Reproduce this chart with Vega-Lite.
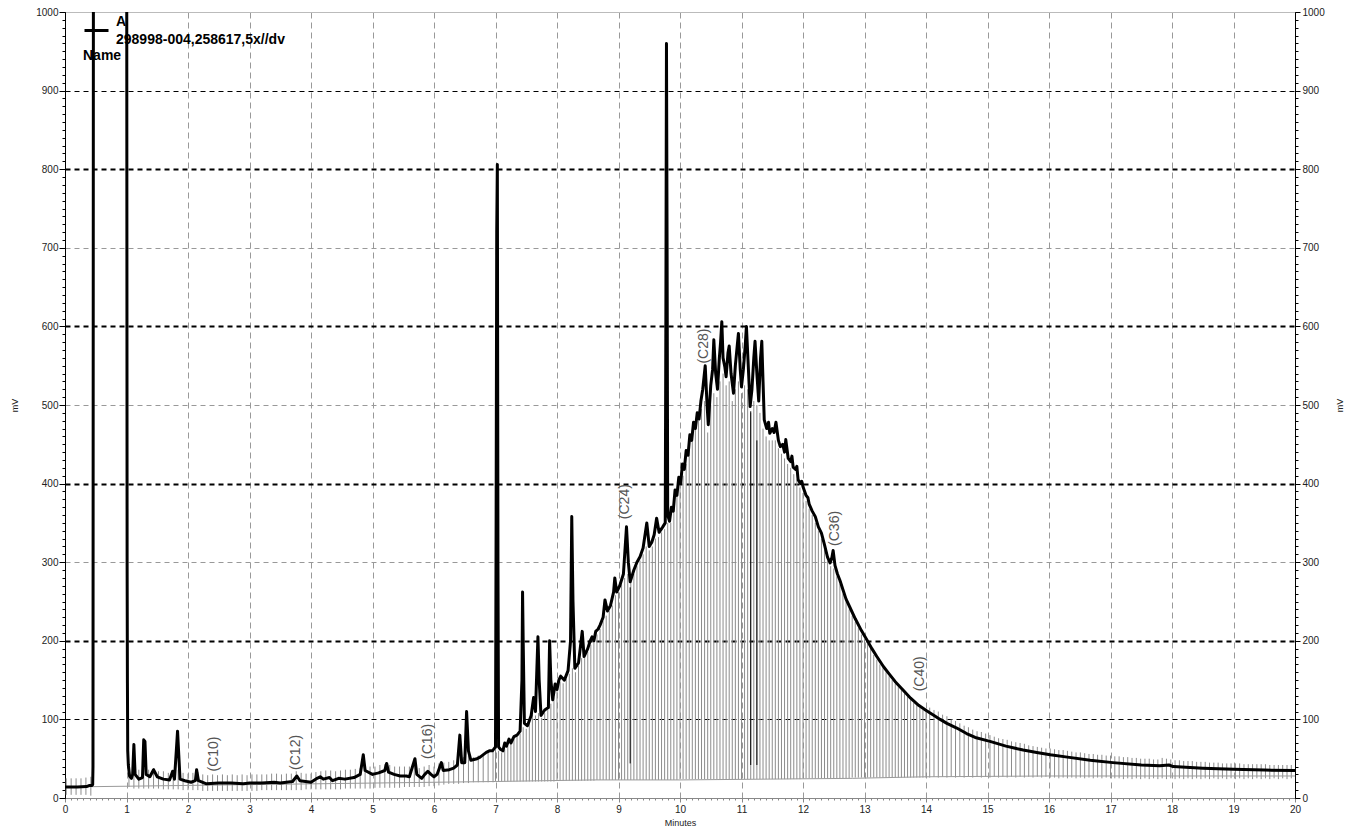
{
"$schema": "https://vega.github.io/schema/vega-lite/v6.json",
"width": 1230, "height": 786,
"autosize": {"type": "none"},
"padding": {"left": 65, "top": 12, "right": 70, "bottom": 37},
"background": "white",
"config": {"view": {"stroke": null}, "font": "Liberation Sans"},
"datasets": {
"trace": [
{"t":0,"v":14},{"t":0.2,"v":14},{"t":0.35,"v":14.5},{"t":0.4,"v":16},{"t":0.44,"v":16},{"t":0.45,"v":17},{"t":0.455,"v":40},{"t":0.465,"v":1500},{"t":1.0,"v":1500},{"t":1.01,"v":300},{"t":1.015,"v":146},{"t":1.02,"v":60},{"t":1.03,"v":42},{"t":1.05,"v":28},{"t":1.08,"v":25},{"t":1.1,"v":30},{"t":1.12,"v":68},{"t":1.14,"v":30},{"t":1.2,"v":24},{"t":1.26,"v":26},{"t":1.28,"v":74},{"t":1.3,"v":72},{"t":1.32,"v":30},{"t":1.38,"v":27},{"t":1.44,"v":36},{"t":1.5,"v":27},{"t":1.6,"v":24},{"t":1.7,"v":23},{"t":1.75,"v":34},{"t":1.78,"v":24},{"t":1.81,"v":60},{"t":1.83,"v":85},{"t":1.85,"v":55},{"t":1.87,"v":24},{"t":1.95,"v":22},{"t":2.05,"v":20},{"t":2.12,"v":22},{"t":2.14,"v":36},{"t":2.17,"v":22},{"t":2.3,"v":18},{"t":2.5,"v":19},{"t":2.7,"v":19},{"t":2.9,"v":18},{"t":3.0,"v":19},{"t":3.2,"v":19},{"t":3.4,"v":20},{"t":3.5,"v":19},{"t":3.7,"v":21},{"t":3.77,"v":28},{"t":3.82,"v":22},{"t":4.0,"v":20},{"t":4.1,"v":25},{"t":4.15,"v":27},{"t":4.2,"v":24},{"t":4.3,"v":26},{"t":4.35,"v":22},{"t":4.45,"v":25},{"t":4.55,"v":24},{"t":4.7,"v":26},{"t":4.8,"v":30},{"t":4.85,"v":55},{"t":4.88,"v":35},{"t":5.0,"v":30},{"t":5.1,"v":32},{"t":5.2,"v":35},{"t":5.23,"v":44},{"t":5.26,"v":33},{"t":5.35,"v":30},{"t":5.45,"v":28},{"t":5.55,"v":28},{"t":5.6,"v":27},{"t":5.69,"v":50},{"t":5.72,"v":30},{"t":5.8,"v":25},{"t":5.85,"v":30},{"t":5.9,"v":34},{"t":5.95,"v":30},{"t":6.0,"v":27},{"t":6.05,"v":30},{"t":6.12,"v":45},{"t":6.15,"v":35},{"t":6.25,"v":36},{"t":6.32,"v":38},{"t":6.38,"v":42},{"t":6.42,"v":80},{"t":6.45,"v":45},{"t":6.5,"v":45},{"t":6.53,"v":110},{"t":6.56,"v":60},{"t":6.6,"v":48},{"t":6.7,"v":50},{"t":6.75,"v":52},{"t":6.85,"v":58},{"t":6.9,"v":60},{"t":6.95,"v":60},{"t":7.0,"v":65},{"t":7.01,"v":350},{"t":7.02,"v":720},{"t":7.03,"v":806},{"t":7.04,"v":300},{"t":7.05,"v":65},{"t":7.08,"v":62},{"t":7.12,"v":60},{"t":7.15,"v":70},{"t":7.18,"v":66},{"t":7.22,"v":75},{"t":7.25,"v":70},{"t":7.3,"v":78},{"t":7.35,"v":80},{"t":7.4,"v":85},{"t":7.43,"v":150},{"t":7.44,"v":262},{"t":7.45,"v":200},{"t":7.47,"v":95},{"t":7.52,"v":92},{"t":7.58,"v":105},{"t":7.62,"v":128},{"t":7.65,"v":110},{"t":7.69,"v":205},{"t":7.71,"v":150},{"t":7.74,"v":105},{"t":7.8,"v":112},{"t":7.86,"v":115},{"t":7.88,"v":200},{"t":7.9,"v":150},{"t":7.93,"v":125},{"t":7.97,"v":145},{"t":8.0,"v":138},{"t":8.03,"v":150},{"t":8.06,"v":155},{"t":8.12,"v":150},{"t":8.18,"v":162},{"t":8.22,"v":200},{"t":8.24,"v":358},{"t":8.26,"v":250},{"t":8.29,"v":165},{"t":8.35,"v":172},{"t":8.41,"v":212},{"t":8.44,"v":180},{"t":8.5,"v":190},{"t":8.54,"v":200},{"t":8.57,"v":205},{"t":8.6,"v":200},{"t":8.63,"v":212},{"t":8.67,"v":215},{"t":8.7,"v":220},{"t":8.75,"v":230},{"t":8.78,"v":252},{"t":8.82,"v":238},{"t":8.87,"v":245},{"t":8.92,"v":262},{"t":8.94,"v":280},{"t":8.97,"v":262},{"t":9.02,"v":270},{"t":9.08,"v":285},{"t":9.13,"v":345},{"t":9.16,"v":300},{"t":9.19,"v":275},{"t":9.25,"v":290},{"t":9.3,"v":300},{"t":9.35,"v":307},{"t":9.4,"v":318},{"t":9.46,"v":350},{"t":9.5,"v":320},{"t":9.54,"v":325},{"t":9.58,"v":335},{"t":9.62,"v":356},{"t":9.66,"v":338},{"t":9.72,"v":345},{"t":9.76,"v":350},{"t":9.77,"v":600},{"t":9.78,"v":960},{"t":9.79,"v":700},{"t":9.8,"v":360},{"t":9.83,"v":352},{"t":9.86,"v":370},{"t":9.89,"v":365},{"t":9.92,"v":392},{"t":9.95,"v":385},{"t":9.98,"v":408},{"t":10.01,"v":400},{"t":10.04,"v":425},{"t":10.07,"v":418},{"t":10.1,"v":442},{"t":10.13,"v":436},{"t":10.16,"v":462},{"t":10.19,"v":455},{"t":10.22,"v":478},{"t":10.25,"v":470},{"t":10.28,"v":490},{"t":10.31,"v":482},{"t":10.34,"v":505},{"t":10.37,"v":520},{"t":10.41,"v":550},{"t":10.44,"v":500},{"t":10.46,"v":475},{"t":10.5,"v":525},{"t":10.53,"v":545},{"t":10.55,"v":583},{"t":10.58,"v":540},{"t":10.61,"v":520},{"t":10.64,"v":560},{"t":10.66,"v":580},{"t":10.68,"v":606},{"t":10.7,"v":560},{"t":10.73,"v":548},{"t":10.75,"v":536},{"t":10.78,"v":566},{"t":10.8,"v":575},{"t":10.83,"v":540},{"t":10.87,"v":515},{"t":10.9,"v":550},{"t":10.93,"v":575},{"t":10.95,"v":591},{"t":10.98,"v":545},{"t":11.0,"v":523},{"t":11.03,"v":545},{"t":11.06,"v":575},{"t":11.08,"v":600},{"t":11.11,"v":550},{"t":11.14,"v":498},{"t":11.17,"v":520},{"t":11.2,"v":560},{"t":11.22,"v":581},{"t":11.25,"v":540},{"t":11.28,"v":505},{"t":11.31,"v":560},{"t":11.33,"v":581},{"t":11.35,"v":530},{"t":11.37,"v":481},{"t":11.41,"v":470},{"t":11.44,"v":478},{"t":11.46,"v":464},{"t":11.5,"v":470},{"t":11.53,"v":465},{"t":11.56,"v":478},{"t":11.6,"v":455},{"t":11.63,"v":447},{"t":11.67,"v":450},{"t":11.7,"v":440},{"t":11.72,"v":456},{"t":11.76,"v":432},{"t":11.8,"v":428},{"t":11.82,"v":435},{"t":11.84,"v":421},{"t":11.88,"v":418},{"t":11.9,"v":422},{"t":11.92,"v":405},{"t":11.96,"v":400},{"t":11.98,"v":403},{"t":12.0,"v":396},{"t":12.05,"v":385},{"t":12.08,"v":382},{"t":12.1,"v":374},{"t":12.15,"v":365},{"t":12.2,"v":358},{"t":12.25,"v":345},{"t":12.3,"v":337},{"t":12.35,"v":322},{"t":12.4,"v":306},{"t":12.44,"v":299},{"t":12.47,"v":306},{"t":12.49,"v":315},{"t":12.52,"v":296},{"t":12.56,"v":285},{"t":12.6,"v":277},{"t":12.65,"v":265},{"t":12.7,"v":253},{"t":12.76,"v":243},{"t":12.85,"v":228},{"t":12.95,"v":213},{"t":13.04,"v":201},{"t":13.12,"v":190},{"t":13.2,"v":180},{"t":13.31,"v":167},{"t":13.4,"v":158},{"t":13.5,"v":148},{"t":13.63,"v":137},{"t":13.75,"v":127},{"t":13.88,"v":118},{"t":14.01,"v":111},{"t":14.15,"v":104},{"t":14.23,"v":100},{"t":14.34,"v":95},{"t":14.5,"v":89},{"t":14.66,"v":82},{"t":14.8,"v":77},{"t":15.04,"v":72},{"t":15.3,"v":66},{"t":15.58,"v":61},{"t":15.8,"v":58},{"t":16.02,"v":55},{"t":16.3,"v":52},{"t":16.67,"v":48},{"t":17.04,"v":45},{"t":17.5,"v":42},{"t":17.8,"v":41},{"t":17.95,"v":42},{"t":18.02,"v":40},{"t":18.5,"v":38},{"t":19.0,"v":36.5},{"t":19.5,"v":35.5},{"t":20.0,"v":35}
],
"hatch": [
{"t":0.02,"lo":4,"hi":25},{"t":0.1,"lo":4,"hi":25},{"t":0.18,"lo":4,"hi":25},{"t":0.26,"lo":4,"hi":25},{"t":0.34,"lo":4,"hi":26},{"t":0.42,"lo":3,"hi":27},
{"t":1.04,"lo":14,"hi":40},{"t":1.12,"lo":12,"hi":38},{"t":1.2,"lo":12,"hi":36},{"t":1.28,"lo":12,"hi":38},{"t":1.36,"lo":12,"hi":36},{"t":1.44,"lo":12,"hi":38},{"t":1.52,"lo":12,"hi":34},{"t":1.6,"lo":11,"hi":34},{"t":1.68,"lo":11,"hi":32},{"t":1.76,"lo":11,"hi":34},{"t":1.84,"lo":11,"hi":36},{"t":1.92,"lo":10,"hi":32},{"t":2.0,"lo":10,"hi":31},{"t":2.08,"lo":10,"hi":32},{"t":2.16,"lo":10,"hi":33},{"t":2.24,"lo":9,"hi":30},{"t":2.32,"lo":9,"hi":29},{"t":2.4,"lo":9,"hi":30},{"t":2.48,"lo":9,"hi":29},{"t":2.56,"lo":9,"hi":30},{"t":2.64,"lo":9,"hi":29},{"t":2.72,"lo":9,"hi":30},{"t":2.8,"lo":9,"hi":29},{"t":2.88,"lo":9,"hi":30},{"t":2.96,"lo":9,"hi":29},{"t":3.04,"lo":9,"hi":30},{"t":3.12,"lo":9,"hi":30},{"t":3.2,"lo":10,"hi":30},{"t":3.28,"lo":10,"hi":30},{"t":3.36,"lo":10,"hi":31},{"t":3.44,"lo":10,"hi":31},{"t":3.52,"lo":10,"hi":30},{"t":3.6,"lo":10,"hi":31},{"t":3.68,"lo":10,"hi":31},{"t":3.76,"lo":10,"hi":34},{"t":3.84,"lo":10,"hi":32},{"t":3.92,"lo":11,"hi":31},{"t":4.0,"lo":11,"hi":31},{"t":4.08,"lo":11,"hi":33},{"t":4.16,"lo":11,"hi":34},{"t":4.24,"lo":11,"hi":35},{"t":4.32,"lo":11,"hi":35},{"t":4.4,"lo":11,"hi":34},{"t":4.48,"lo":11,"hi":35},{"t":4.56,"lo":12,"hi":36},{"t":4.64,"lo":12,"hi":36},{"t":4.72,"lo":12,"hi":37},{"t":4.8,"lo":12,"hi":38},{"t":4.88,"lo":12,"hi":42},{"t":4.96,"lo":12,"hi":40},{"t":5.04,"lo":13,"hi":40},{"t":5.12,"lo":13,"hi":42},{"t":5.2,"lo":13,"hi":43},{"t":5.28,"lo":13,"hi":42},{"t":5.36,"lo":13,"hi":40},{"t":5.44,"lo":13,"hi":40},{"t":5.52,"lo":14,"hi":40},{"t":5.6,"lo":14,"hi":40},{"t":5.68,"lo":14,"hi":42},{"t":5.76,"lo":14,"hi":38},{"t":5.84,"lo":14,"hi":40},{"t":5.92,"lo":15,"hi":42},{"t":6.0,"lo":15,"hi":40},{"t":6.08,"lo":16,"hi":44},{"t":6.16,"lo":17,"hi":45},{"t":6.24,"lo":18,"hi":46},{"t":6.32,"lo":18,"hi":48},{"t":6.4,"lo":18,"hi":50},{"t":6.48,"lo":19,"hi":52},{"t":6.56,"lo":19,"hi":54},{"t":6.64,"lo":20,"hi":52},{"t":6.72,"lo":20,"hi":54},{"t":6.8,"lo":20,"hi":56},{"t":6.88,"lo":20,"hi":58},{"t":6.96,"lo":20,"hi":60},
{"t":7.0,"lo":21,"hi":62},{"t":7.05,"lo":21,"hi":60},{"t":7.1,"lo":21,"hi":58},{"t":7.15,"lo":21,"hi":62},{"t":7.2,"lo":21,"hi":66},{"t":7.25,"lo":21,"hi":70},{"t":7.3,"lo":21,"hi":75},{"t":7.35,"lo":21,"hi":78},{"t":7.4,"lo":21,"hi":82},{"t":7.45,"lo":21,"hi":90},{"t":7.5,"lo":21,"hi":88},{"t":7.55,"lo":21,"hi":98},{"t":7.6,"lo":21,"hi":110},{"t":7.65,"lo":21,"hi":105},{"t":7.7,"lo":21,"hi":108},{"t":7.75,"lo":21,"hi":102},{"t":7.8,"lo":21,"hi":108},{"t":7.85,"lo":21,"hi":112},{"t":7.9,"lo":21,"hi":120},{"t":7.95,"lo":21,"hi":128},{"t":8.0,"lo":22,"hi":136},{"t":8.05,"lo":22,"hi":148},{"t":8.1,"lo":22,"hi":146},{"t":8.15,"lo":22,"hi":152},{"t":8.2,"lo":22,"hi":158},{"t":8.25,"lo":22,"hi":165},{"t":8.3,"lo":22,"hi":160},{"t":8.35,"lo":22,"hi":168},{"t":8.4,"lo":22,"hi":178},{"t":8.45,"lo":22,"hi":178},{"t":8.5,"lo":22,"hi":186},{"t":8.55,"lo":22,"hi":195},{"t":8.6,"lo":22,"hi":203},{"t":8.65,"lo":23,"hi":208},{"t":8.7,"lo":23,"hi":215},{"t":8.75,"lo":23,"hi":225},{"t":8.8,"lo":23,"hi":232},{"t":8.85,"lo":23,"hi":238},{"t":8.9,"lo":23,"hi":245},{"t":8.95,"lo":23,"hi":258},{"t":9.0,"lo":23,"hi":262},{"t":9.05,"lo":23,"hi":272},{"t":9.1,"lo":23,"hi":280},{"t":9.15,"lo":23,"hi":285},{"t":9.2,"lo":23,"hi":275},{"t":9.25,"lo":23,"hi":285},{"t":9.3,"lo":23,"hi":295},{"t":9.35,"lo":23,"hi":302},{"t":9.4,"lo":23,"hi":310},{"t":9.45,"lo":23,"hi":320},{"t":9.5,"lo":23,"hi":315},{"t":9.55,"lo":23,"hi":320},{"t":9.6,"lo":23,"hi":330},{"t":9.65,"lo":23,"hi":332},{"t":9.7,"lo":23,"hi":338},{"t":9.75,"lo":23,"hi":342},{"t":9.8,"lo":23,"hi":350},{"t":9.85,"lo":23,"hi":350},{"t":9.9,"lo":23,"hi":370},{"t":9.95,"lo":23,"hi":385},{"t":10.0,"lo":24,"hi":400},{"t":10.05,"lo":24,"hi":410},{"t":10.1,"lo":24,"hi":425},{"t":10.15,"lo":24,"hi":445},{"t":10.2,"lo":24,"hi":455},{"t":10.25,"lo":24,"hi":470},{"t":10.3,"lo":24,"hi":480},{"t":10.35,"lo":24,"hi":495},{"t":10.4,"lo":24,"hi":505},{"t":10.45,"lo":24,"hi":465},{"t":10.5,"lo":24,"hi":500},{"t":10.55,"lo":24,"hi":515},{"t":10.6,"lo":24,"hi":510},{"t":10.65,"lo":24,"hi":530},{"t":10.7,"lo":24,"hi":540},{"t":10.75,"lo":24,"hi":525},{"t":10.8,"lo":24,"hi":530},{"t":10.85,"lo":24,"hi":505},{"t":10.9,"lo":24,"hi":520},{"t":10.95,"lo":24,"hi":530},{"t":11.0,"lo":24,"hi":515},{"t":11.05,"lo":24,"hi":525},{"t":11.1,"lo":24,"hi":520},{"t":11.15,"lo":24,"hi":490},{"t":11.2,"lo":24,"hi":505},{"t":11.25,"lo":24,"hi":500},{"t":11.3,"lo":24,"hi":490},{"t":11.35,"lo":24,"hi":470},{"t":11.4,"lo":24,"hi":460},{"t":11.45,"lo":24,"hi":455},{"t":11.5,"lo":24,"hi":455},{"t":11.55,"lo":24,"hi":455},{"t":11.6,"lo":24,"hi":445},{"t":11.65,"lo":24,"hi":438},{"t":11.7,"lo":24,"hi":432},{"t":11.75,"lo":24,"hi":425},{"t":11.8,"lo":24,"hi":420},{"t":11.85,"lo":24,"hi":412},{"t":11.9,"lo":24,"hi":405},{"t":11.95,"lo":24,"hi":395},{"t":12.0,"lo":25,"hi":388},{"t":12.05,"lo":25,"hi":378},{"t":12.1,"lo":25,"hi":368},{"t":12.15,"lo":25,"hi":360},{"t":12.2,"lo":25,"hi":350},{"t":12.25,"lo":25,"hi":340},{"t":12.3,"lo":25,"hi":330},{"t":12.35,"lo":25,"hi":316},{"t":12.4,"lo":25,"hi":302},{"t":12.45,"lo":25,"hi":295},{"t":12.5,"lo":25,"hi":292},{"t":12.55,"lo":25,"hi":282},{"t":12.6,"lo":25,"hi":272},{"t":12.65,"lo":25,"hi":260},{"t":12.7,"lo":25,"hi":250},{"t":12.75,"lo":25,"hi":240},{"t":12.8,"lo":26,"hi":232},{"t":12.85,"lo":26,"hi":224},{"t":12.9,"lo":26,"hi":216},{"t":12.95,"lo":26,"hi":208},{"t":13.0,"lo":26,"hi":202},{"t":13.05,"lo":26,"hi":196},{"t":13.1,"lo":26,"hi":190},{"t":13.15,"lo":26,"hi":182},{"t":13.2,"lo":26,"hi":176},{"t":13.25,"lo":26,"hi":170},{"t":13.3,"lo":26,"hi":165},{"t":13.35,"lo":26,"hi":160},{"t":13.4,"lo":26,"hi":155},{"t":13.45,"lo":26,"hi":150},{"t":13.5,"lo":26,"hi":145},{"t":13.55,"lo":26,"hi":141},{"t":13.6,"lo":26,"hi":137},{"t":13.65,"lo":26,"hi":133},{"t":13.7,"lo":26,"hi":129},{"t":13.75,"lo":26,"hi":125},{"t":13.8,"lo":26,"hi":121},{"t":13.85,"lo":26,"hi":118},{"t":13.9,"lo":26,"hi":115},{"t":13.95,"lo":26,"hi":112},{"t":14.0,"lo":26,"hi":110},
{"t":14.06,"lo":26,"hi":115},{"t":14.13,"lo":27,"hi":112},{"t":14.2,"lo":26,"hi":110},{"t":14.27,"lo":27,"hi":106},{"t":14.34,"lo":26,"hi":104},{"t":14.41,"lo":27,"hi":100},{"t":14.48,"lo":26,"hi":98},{"t":14.55,"lo":27,"hi":95},{"t":14.62,"lo":26,"hi":92},{"t":14.69,"lo":27,"hi":90},{"t":14.76,"lo":26,"hi":87},{"t":14.83,"lo":27,"hi":85},{"t":14.9,"lo":26,"hi":84},{"t":14.97,"lo":27,"hi":82},{"t":15.04,"lo":26,"hi":80},{"t":15.11,"lo":27,"hi":78},{"t":15.18,"lo":26,"hi":76},{"t":15.25,"lo":27,"hi":75},{"t":15.32,"lo":26,"hi":74},{"t":15.39,"lo":27,"hi":72},{"t":15.46,"lo":26,"hi":71},{"t":15.53,"lo":27,"hi":70},{"t":15.6,"lo":26,"hi":69},{"t":15.67,"lo":27,"hi":67},{"t":15.74,"lo":26,"hi":66},{"t":15.81,"lo":27,"hi":65},{"t":15.88,"lo":26,"hi":64},{"t":15.95,"lo":27,"hi":63},{"t":16.02,"lo":26,"hi":63},{"t":16.09,"lo":26,"hi":62},{"t":16.16,"lo":25,"hi":61},{"t":16.23,"lo":26,"hi":61},{"t":16.3,"lo":25,"hi":60},{"t":16.37,"lo":26,"hi":59},{"t":16.44,"lo":25,"hi":58},{"t":16.51,"lo":26,"hi":58},{"t":16.58,"lo":25,"hi":57},{"t":16.65,"lo":26,"hi":56},{"t":16.72,"lo":25,"hi":56},{"t":16.79,"lo":26,"hi":55},{"t":16.86,"lo":25,"hi":55},{"t":16.93,"lo":26,"hi":54},{"t":17.0,"lo":25,"hi":54},{"t":17.07,"lo":25,"hi":53},{"t":17.14,"lo":25,"hi":53},{"t":17.21,"lo":24,"hi":52},{"t":17.28,"lo":25,"hi":52},{"t":17.35,"lo":24,"hi":51},{"t":17.42,"lo":25,"hi":51},{"t":17.49,"lo":24,"hi":50},{"t":17.56,"lo":25,"hi":50},{"t":17.63,"lo":24,"hi":50},{"t":17.7,"lo":25,"hi":49},{"t":17.77,"lo":24,"hi":49},{"t":17.84,"lo":25,"hi":51},{"t":17.91,"lo":24,"hi":50},{"t":17.98,"lo":25,"hi":49},{"t":18.05,"lo":24,"hi":48},{"t":18.12,"lo":25,"hi":48},{"t":18.19,"lo":24,"hi":47},{"t":18.26,"lo":25,"hi":47},{"t":18.33,"lo":24,"hi":47},{"t":18.4,"lo":25,"hi":46},{"t":18.47,"lo":24,"hi":46},{"t":18.54,"lo":25,"hi":46},{"t":18.61,"lo":24,"hi":45},{"t":18.68,"lo":25,"hi":45},{"t":18.75,"lo":24,"hi":45},{"t":18.82,"lo":25,"hi":44},{"t":18.89,"lo":24,"hi":44},{"t":18.96,"lo":25,"hi":44},{"t":19.03,"lo":24,"hi":44},{"t":19.1,"lo":25,"hi":44},{"t":19.17,"lo":24,"hi":43},{"t":19.24,"lo":25,"hi":43},{"t":19.31,"lo":24,"hi":43},{"t":19.38,"lo":25,"hi":43},{"t":19.45,"lo":24,"hi":43},{"t":19.52,"lo":25,"hi":43},{"t":19.59,"lo":24,"hi":42},{"t":19.66,"lo":25,"hi":42},{"t":19.73,"lo":24,"hi":42},{"t":19.8,"lo":25,"hi":42},{"t":19.87,"lo":24,"hi":42},{"t":19.94,"lo":25,"hi":42}
],
"base": [
{"t":0,"v":14},{"t":1.03,"v":15},{"t":2,"v":16},{"t":4,"v":18},{"t":6,"v":20},{"t":7,"v":21},{"t":8.6,"v":23},{"t":10,"v":23},{"t":12.8,"v":25},{"t":14,"v":27},{"t":16,"v":28},{"t":20,"v":28}
],
"drops": [
{"t":9.19,"top":268,"bot":44},{"t":11.15,"top":492,"bot":42},{"t":11.25,"top":455,"bot":42}
],
"labels": [
{"t":2.42,"v":56,"l":"(C10)"},{"t":3.76,"v":58,"l":"(C12)"},{"t":5.9,"v":72,"l":"(C16)"},{"t":9.11,"v":377,"l":"(C24)"},{"t":10.39,"v":575,"l":"(C28)"},{"t":12.52,"v":343,"l":"(C36)"},{"t":13.9,"v":158,"l":"(C40)"}
]
},
"layer": [
{
"data": {"name": "hatch"},
"mark": {"type": "rule", "stroke": "#8c8c8c", "strokeWidth": 1},
"encoding": {
"x": {"field": "t", "type": "quantitative", "scale": {"domain": [0, 20], "nice": false, "zero": false},
"axis": {"orient": "bottom", "values": [0,1,2,3,4,5,6,7,8,9,10,11,12,13,14,15,16,17,18,19,20], "format": "d", "title": "Minutes", "titleFontSize": 9, "titleFontWeight": "normal", "titleColor": "#222", "titlePadding": 4, "labelFontSize": 10, "labelColor": "#222", "labelPadding": 2, "labelFlush": false, "labelOverlap": false, "tickSize": 4, "tickColor": "#888", "domainColor": "#888", "grid": true, "gridColor": "#999", "gridDash": [6, 4], "gridWidth": 1}},
"y": {"field": "hi", "type": "quantitative", "scale": {"domain": [0, 1000], "nice": false, "zero": true},
"axis": {"orient": "left", "values": [0,100,200,300,400,500,600,700,800,900,1000], "format": "d", "title": "mV", "titleFontSize": 9, "titleFontWeight": "normal", "titleColor": "#222", "titlePadding": 16, "labelFontSize": 10, "labelColor": "#222", "labelPadding": 1, "tickSize": 6, "tickColor": "#000", "domainColor": "#000", "grid": true,
"gridColor": {"condition": [{"test": "datum.value == 1000", "value": "#bbbbbb"}, {"test": "datum.value == 300 || datum.value == 500 || datum.value == 700", "value": "#999999"}], "value": "#000000"},
"gridDash": {"condition": {"test": "datum.value == 1000", "value": []}, "value": [5, 4]},
"gridWidth": {"condition": {"test": "datum.value == 200 || datum.value == 400 || datum.value == 600 || datum.value == 800", "value": 1.8}, "value": 1}}},
"y2": {"field": "lo"}
}
},
{
"data": {"name": "base"},
"mark": {"type": "line", "stroke": "#9a9a9a", "strokeWidth": 1},
"encoding": {
"x": {"field": "t", "type": "quantitative", "axis": null},
"y": {"field": "v", "type": "quantitative", "axis": {"orient": "left", "tickCount": 100, "labels": false, "domain": false, "grid": false, "tickSize": 3, "tickColor": "#000", "title": null}}
}
},
{
"data": {"name": "drops"},
"mark": {"type": "rule", "stroke": "#000", "strokeWidth": 1},
"encoding": {
"x": {"field": "t", "type": "quantitative", "axis": null},
"y": {"field": "top", "type": "quantitative", "axis": null},
"y2": {"field": "bot"}
}
},
{
"data": {"name": "trace"},
"mark": {"type": "line", "strokeWidth": 3, "clip": true, "strokeJoin": "round"},
"encoding": {
"x": {"field": "t", "type": "quantitative", "axis": {"orient": "bottom", "tickCount": 200, "labels": false, "domain": false, "grid": false, "tickSize": 2, "tickColor": "#888", "title": null}},
"y": {"field": "v", "type": "quantitative", "axis": {"orient": "right", "values": [0,100,200,300,400,500,600,700,800,900,1000], "format": "d", "title": "mV", "titleAngle": 270, "titleFontSize": 9, "titleFontWeight": "normal", "titleColor": "#222", "titlePadding": 20, "labelFontSize": 10, "labelColor": "#222", "labelPadding": 2, "tickSize": 5, "tickColor": "#000", "domainColor": "#000", "grid": false}},
"stroke": {"datum": "A", "type": "nominal", "scale": {"range": ["#000000"]},
"legend": {"orient": "none", "legendX": 18, "legendY": 5, "padding": 0, "title": "Name", "titleOrient": "bottom", "titleAnchor": "start", "titleFont": "Liberation Sans", "titleFontSize": 14, "titleFontWeight": "bold", "titleColor": "#000", "titlePadding": 2, "labelFont": "Liberation Sans", "labelFontSize": 14, "labelFontWeight": "bold", "labelColor": "#000", "labelExpr": "['A', '298998-004,258617,5x//dv']", "labelLimit": 400, "labelOffset": 6, "symbolType": "stroke", "symbolStrokeWidth": 3, "symbolSize": 576, "symbolStrokeColor": "#000",
"encode": {"labels": {"update": {"dy": {"value": -9}, "lineHeight": {"value": 18}}}}}}
}
},
{
"data": {"name": "labels"},
"mark": {"type": "text", "angle": 270, "align": "center", "baseline": "middle", "fontSize": 14, "font": "Liberation Sans", "fill": "#555"},
"encoding": {
"x": {"field": "t", "type": "quantitative", "axis": null},
"y": {"field": "v", "type": "quantitative", "axis": {"orient": "right", "tickCount": 100, "labels": false, "domain": false, "grid": false, "tickSize": 3, "tickColor": "#000", "title": null}},
"text": {"field": "l"}
}
}
],
"resolve": {"axis": {"x": "independent", "y": "independent"}}
}
